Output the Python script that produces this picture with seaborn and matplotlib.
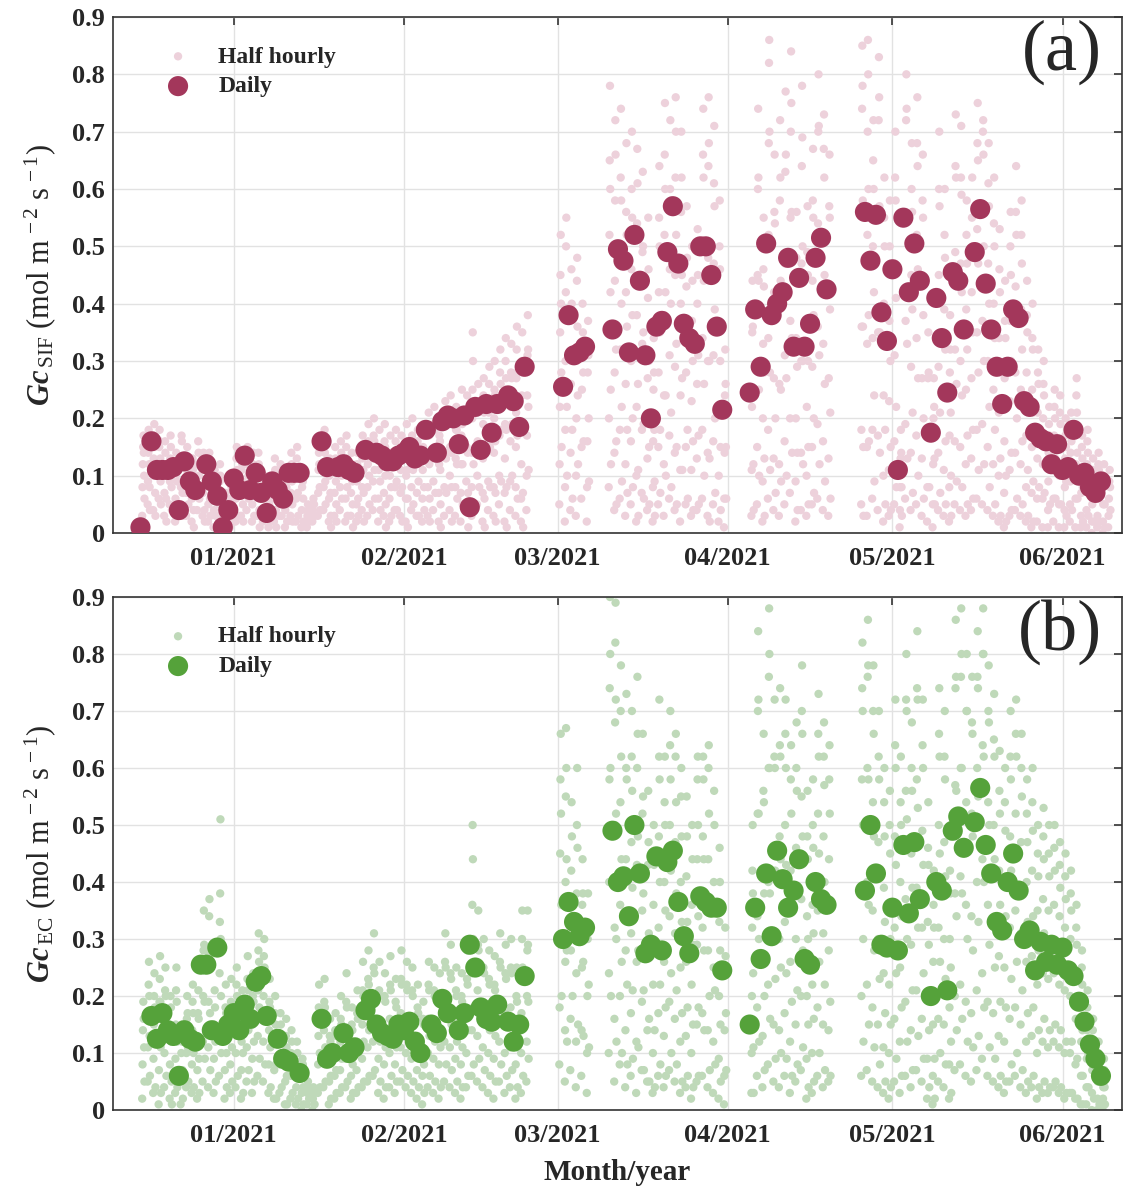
import numpy as np
import pandas as pd
import matplotlib
matplotlib.use("Agg")
import matplotlib.pyplot as plt
import matplotlib.dates as mdates
from matplotlib.ticker import FuncFormatter
import seaborn as sns

# ---- daily Gc (mol m-2 s-1); day = days since 2021-01-01 ----
sif_days = [-17, -15, -14, -13, -12, -11, -10, -9, -8, -7, -5, -4, -3, -2, -1,
            0, 1, 2, 3, 4, 5, 6, 7, 8, 9, 10, 11, 12, 16, 17, 19, 20, 21, 22, 24, 26, 27, 28, 29, 30,
            31, 32, 33, 34, 35, 37, 38, 39, 40, 41, 42, 43, 44, 45, 46, 47, 48, 50, 51, 52, 53,
            60, 61, 62, 63, 64, 69, 70, 71, 72, 73, 74, 75, 76, 77, 78, 79, 80, 81, 82, 83, 84, 85, 86, 87, 88, 89,
            94, 95, 96, 97, 98, 99, 100, 101, 102, 103, 104, 105, 106, 107, 108, 115, 116, 117, 118, 119,
            120, 121, 122, 123, 124, 125, 127, 128, 129, 130, 131, 132, 133, 135, 136, 137, 138, 139, 140,
            141, 142, 143, 144, 145, 146, 147, 148, 149, 150,
            151, 152, 153, 154, 155, 156, 157, 158]
sif_daily = [0.01, 0.16, 0.11, 0.11, 0.11, 0.115, 0.04, 0.125, 0.09, 0.075, 0.12, 0.09, 0.065, 0.01, 0.04,
             0.095, 0.075, 0.135, 0.075, 0.105, 0.07, 0.035, 0.09, 0.075, 0.06, 0.105, 0.105, 0.105, 0.16, 0.115,
             0.115, 0.12, 0.11, 0.105, 0.145, 0.14, 0.135, 0.125, 0.125, 0.135,
             0.14, 0.15, 0.13, 0.135, 0.18, 0.14, 0.195, 0.205, 0.20, 0.155, 0.205, 0.045, 0.22, 0.145, 0.225,
             0.175, 0.225, 0.24, 0.23, 0.185, 0.29,
             0.255, 0.38, 0.31, 0.315, 0.325, 0.355, 0.495, 0.475, 0.315, 0.52, 0.44, 0.31, 0.20, 0.36, 0.37,
             0.49, 0.57, 0.47, 0.365, 0.34, 0.33, 0.50, 0.50, 0.45, 0.36, 0.215,
             0.245, 0.39, 0.29, 0.505, 0.38, 0.40, 0.42, 0.48, 0.325, 0.445, 0.325, 0.365, 0.48, 0.515, 0.425,
             0.56, 0.475, 0.555, 0.385, 0.335,
             0.46, 0.11, 0.55, 0.42, 0.505, 0.44, 0.175, 0.41, 0.34, 0.245, 0.455, 0.44, 0.355, 0.49, 0.565,
             0.435, 0.355, 0.29, 0.225, 0.29, 0.39, 0.375, 0.23, 0.22, 0.175, 0.165, 0.16, 0.12, 0.155,
             0.11, 0.115, 0.18, 0.10, 0.105, 0.08, 0.07, 0.09]

ec_days = [-15, -14, -13, -12, -11, -10, -9, -8, -7, -6, -5, -4, -3, -2, -1,
           0, 1, 2, 3, 4, 5, 6, 8, 9, 10, 12, 16, 17, 18, 20, 21, 22, 24, 25, 26, 27, 28, 29, 30,
           31, 32, 33, 34, 36, 37, 38, 39, 41, 42, 43, 44, 45, 46, 47, 48, 50, 51, 52, 53,
           60, 61, 62, 63, 64, 69, 70, 71, 72, 73, 74, 75, 76, 77, 78, 79, 80, 81, 82, 83, 85, 86, 87, 88, 89,
           94, 95, 96, 97, 98, 99, 100, 101, 102, 103, 104, 105, 106, 107, 108, 115, 116, 117, 118, 119,
           120, 121, 122, 123, 124, 125, 127, 128, 129, 130, 131, 132, 133, 135, 136, 137, 138, 139, 140,
           141, 142, 143, 144, 145, 146, 147, 148, 149, 150,
           151, 152, 153, 154, 155, 156, 157, 158]
ec_daily = [0.165, 0.125, 0.17, 0.14, 0.13, 0.06, 0.14, 0.125, 0.12, 0.255, 0.255, 0.14, 0.285, 0.13, 0.15,
            0.17, 0.14, 0.185, 0.16, 0.225, 0.235, 0.165, 0.125, 0.09, 0.085, 0.065, 0.16, 0.09, 0.10, 0.135,
            0.10, 0.11, 0.175, 0.195, 0.15, 0.135, 0.13, 0.125, 0.15,
            0.14, 0.155, 0.12, 0.10, 0.15, 0.135, 0.195, 0.17, 0.14, 0.17, 0.29, 0.25, 0.18, 0.16, 0.155,
            0.185, 0.155, 0.12, 0.15, 0.235,
            0.30, 0.365, 0.33, 0.305, 0.32, 0.49, 0.40, 0.41, 0.34, 0.50, 0.415, 0.275, 0.29, 0.445, 0.28,
            0.435, 0.455, 0.365, 0.305, 0.275, 0.375, 0.365, 0.355, 0.355, 0.245,
            0.15, 0.355, 0.265, 0.415, 0.305, 0.455, 0.405, 0.355, 0.385, 0.44, 0.265, 0.255, 0.40, 0.37, 0.36,
            0.385, 0.50, 0.415, 0.29, 0.285,
            0.355, 0.28, 0.465, 0.345, 0.47, 0.37, 0.20, 0.40, 0.385, 0.21, 0.49, 0.515, 0.46, 0.505, 0.565,
            0.465, 0.415, 0.33, 0.315, 0.40, 0.45, 0.385, 0.30, 0.315, 0.245, 0.295, 0.26, 0.29, 0.255,
            0.285, 0.245, 0.235, 0.19, 0.155, 0.115, 0.09, 0.06]

# ---- half hourly Gc (x0.01), one string per day, first day 2020-12-15 ----
hh_first_day = -17
sif_hh = [
    # Dec 2020
    "3 8 12 15 17 14 10 6", "5 9 14 18 16 12 8 4", "4 10 13 17 19 15 11 7 3", "6 11 15 18 16 13 9 5",
    "3 7 12 16 14 10 6 2", "5 9 13 17 15 11 8 4", "2 6 10 14 12 9 5", "4 8 13 17 16 12 7 3",
    "3 7 11 15 13 9 5", "2 6 10 13 11 8 4 1", "4 8 12 16 14 10 6", "3 7 11 14 12 8 4 2",
    "2 5 9 12 14 10 6 3", "1 4 8 11 10 7 3", "2 5 9 12 10 6 3 1", "1 3 5 7 6 4 2", "1 3 6 9 8 5 2",
    # Jan 2021
    "2 6 10 13 15 11 7 3", "3 7 11 14 12 9 5 2", "4 8 12 15 13 10 6", "2 5 9 12 14 11 7 3",
    "3 7 11 14 12 8 4 1", "2 4 7 10 9 6 3", "1 3 5 7 6 4 2", "2 6 10 13 11 8 4 1",
    "3 6 9 12 10 7 3", "1 4 7 9 8 5 2", "3 7 11 14 12 9 5 2", "2 6 10 13 15 11 7 3",
    "1 4 8 11 9 6 2", "1 3 5 4 2", "2 4 6 5 3", "3 7 11 14 12 8 4",
    "4 8 12 16 18 14 9 5", "2 6 10 13 11 7 3 1", "3 7 11 15 13 9 5 2", "4 8 12 16 14 10 6",
    "2 6 11 15 17 13 8 3", "3 7 10 14 12 9 5 1", "2 5 9 12 14 11 6 3", "4 8 13 17 15 11 7 2",
    "3 8 12 16 19 15 10 5", "4 9 13 17 20 16 11 6", "2 6 11 15 18 14 9 4", "3 7 12 16 19 15 10 5 1",
    "2 6 10 14 17 13 8 3", "4 8 12 16 18 14 9 4", "3 7 11 15 17 13 8 2",
    # Feb 2021
    "2 6 10 15 19 16 11 6 1", "4 8 13 17 20 16 11 5", "3 7 12 16 18 14 9 3", "2 6 11 15 17 13 8 4",
    "3 8 13 18 21 17 12 6 2", "4 9 14 19 22 18 13 7", "2 7 12 17 20 16 11 5 1", "3 8 14 19 23 19 13 7",
    "4 10 15 20 24 20 14 8 2", "3 8 13 18 22 18 12 6", "2 7 12 17 21 25 19 12 5", "4 9 15 20 24 20 14 7 1",
    "3 8 14 20 25 35 30 22 12 5", "5 10 16 21 26 22 15 8", "2 7 13 19 24 27 21 14 6 1",
    "4 9 15 21 26 29 23 15 8", "3 8 14 20 25 30 24 16 7 2", "5 10 17 23 28 32 26 18 9",
    "2 7 13 19 25 30 34 27 18 8 1", "4 9 16 22 28 33 27 19 10", "3 8 15 21 27 32 36 28 17 6",
    "2 6 12 18 24 30 35 28 18 7 1", "4 10 17 24 31 38 32 22 11", "", "", "", "", "",
    # Mar 2021
    "5 12 22 35 45 52 40 28 15", "2 8 18 30 42 50 55 38 22 10", "4 14 26 38 46 40 30 18 6",
    "3 10 20 32 44 48 36 24 12", "6 15 25 33 40 35 28 16", "2 8 16 28 37 31 20 9", "", "", "",
    "8 20 35 52 65 78 60 42 25 12", "4 14 28 44 58 72 66 50 32 16 5", "6 18 32 48 62 74 58 40 22 9",
    "3 12 26 42 56 68 52 36 18 7", "5 16 30 46 60 70 55 38 20 8", "2 10 22 38 54 67 61 44 26 11 3",
    "7 18 33 49 63 50 35 19 6", "4 13 27 41 55 46 30 15 5", "2 8 16 25 34 28 18 9 3",
    "5 15 28 42 55 64 50 35 18 7", "3 12 24 38 52 66 75 60 42 24 10", "6 17 31 46 60 72 58 40 21 8",
    "4 14 29 45 62 76 70 52 33 15 5", "2 11 24 40 56 70 62 45 27 11", "5 15 28 43 57 48 33 18 6",
    "3 11 23 37 50 44 30 16 4", "4 13 26 40 53 45 31 17 5", "6 18 34 51 66 74 62 44 26 10",
    "3 14 30 48 64 76 68 50 30 13 2", "5 16 31 47 61 71 57 39 20 7", "2 10 22 36 50 58 46 30 15 4",
    "1 6 14 24 32 26 15 6",
    # Apr 2021
    "", "", "", "",
    "3 11 22 35 44 36 24 12 4", "5 15 29 45 60 74 62 44 25 10", "2 9 20 33 46 55 43 28 13 3",
    "6 18 34 52 68 82 86 70 50 28 11", "4 13 27 42 56 66 54 38 20 7", "3 12 26 42 58 72 62 44 25 9",
    "5 16 31 47 63 77 66 47 27 10", "7 20 37 55 70 84 75 56 34 14", "2 9 20 34 48 56 44 29 14 4",
    "4 14 30 47 64 78 69 50 30 12", "3 10 22 36 49 57 45 30 15 5", "5 15 29 44 58 67 55 38 20 7",
    "6 19 36 54 70 80 71 52 31 12", "4 16 33 51 67 73 62 45 26 9", "3 13 27 42 57 66 55 39 21 6",
    "", "", "", "", "",
    "5 18 36 56 74 85 78 58 36 15 3", "3 15 33 52 70 86 80 60 38 16", "6 18 34 50 65 72 60 42 24 9",
    "4 17 35 55 72 83 76 57 35 14", "2 10 24 40 55 62 50 34 18 5", "3 11 23 37 50 58 46 30 15 4",
    # May 2021
    "5 16 31 47 62 70 58 41 22 8", "1 4 8 13 18 14 8 3", "6 19 37 56 72 80 74 55 33 13",
    "4 14 29 45 60 68 56 39 21 7", "5 17 34 52 68 76 64 46 27 10", "3 13 27 43 58 66 55 38 20 6",
    "2 8 17 27 35 28 18 8", "1 5 12 20 27 22 13 5", "4 14 29 45 60 70 57 40 21 7",
    "3 11 24 39 52 60 48 32 16 5", "2 8 17 28 38 32 21 10 3", "5 16 32 49 64 73 62 45 26 9",
    "4 15 30 47 62 71 59 42 24 8", "3 12 25 39 52 58 47 32 17 5", "4 13 27 42 55 62 50 35 18 6",
    "6 18 35 53 68 75 65 47 28 11", "5 19 37 56 70 72 66 50 30 12", "4 15 30 47 61 68 57 40 22 8",
    "3 12 25 40 54 62 50 34 18 5", "2 10 21 34 46 53 42 28 13 3", "1 7 16 27 37 44 34 22 10 2",
    "3 11 23 37 50 56 45 30 14 4", "4 14 28 43 56 64 52 37 20 6", "3 12 25 39 52 58 47 32 16 5",
    "2 8 17 28 38 44 35 23 11 3", "1 7 15 25 34 40 32 21 9 2", "2 6 13 21 28 32 26 17 8",
    "1 6 12 20 26 30 24 15 7", "1 4 9 14 19 22 17 11 5", "2 6 11 17 22 25 20 13 6",
    "1 5 10 16 21 24 19 12 5",
    # Jun 2021
    "1 4 8 13 17 20 15 9 3", "2 5 9 14 18 21 16 10 4", "1 6 12 18 24 27 21 14 6",
    "1 3 7 11 15 17 13 8 2", "1 4 8 12 16 18 14 9 3", "0 2 5 8 11 13 10 6 2",
    "1 3 6 9 12 14 11 7 2", "0 2 5 8 10 12 9 5 1", "1 3 6 9 11 8 4",
]
ec_hh = [
    # Dec 2020
    "2 8 14 19 16 11 5", "5 11 17 22 26 20 13 6", "3 9 15 20 24 18 12 4", "1 7 13 19 23 27 19 11 3",
    "4 10 16 21 25 20 13 6", "2 8 14 20 18 12 5 1", "3 9 15 21 25 19 12 4", "1 5 10 15 12 7 2",
    "4 10 16 20 17 11 5", "3 8 14 19 22 17 10 4", "2 7 12 17 21 16 9 3", "5 12 20 28 35 29 19 9",
    "4 11 19 27 34 37 28 17 7", "3 9 15 21 18 12 5", "6 14 24 33 38 51 30 20 10",
    "2 7 13 18 22 17 10 4", "3 8 14 19 23 18 11 5",
    # Jan 2021
    "4 10 16 22 25 20 13 6", "2 7 12 18 21 16 10 3", "5 11 17 23 27 21 14 7", "3 9 15 20 24 19 12 5",
    "6 13 21 28 31 26 18 9", "5 12 20 27 30 25 17 8", "3 8 14 19 23 18 11 4", "2 7 12 17 20 15 8 2",
    "3 8 13 17 15 9 4", "1 5 9 13 16 11 6 1", "2 6 10 14 12 7 3", "1 4 8 12 10 6 2",
    "0 3 6 9 8 4 1", "1 3 5 4 2", "0 2 4 3 1", "3 8 13 18 22 17 10 4",
    "4 9 14 19 23 18 11 5", "1 5 9 13 16 12 6 2", "2 6 10 14 17 13 7 3", "3 7 12 16 20 15 9 4",
    "4 9 14 19 24 18 11 5", "2 6 11 15 18 14 8 3", "3 7 12 17 21 16 10 4", "4 9 15 21 26 20 12 5",
    "5 11 17 23 28 22 14 6", "6 12 19 25 31 24 15 7", "3 9 15 21 26 20 12 5", "2 8 14 20 24 19 11 4",
    "4 10 16 22 27 21 13 6", "3 8 14 19 23 18 11 5", "5 11 17 23 28 22 14 7",
    # Feb 2021
    "4 10 16 22 26 21 13 6", "3 9 15 21 25 20 12 5", "2 7 13 18 22 17 10 4", "1 6 11 16 19 15 8 3",
    "4 10 16 22 26 21 13 6", "3 9 15 21 25 20 12 5", "2 8 14 20 24 19 11 4", "5 12 19 26 31 25 16 8",
    "4 11 18 24 29 23 15 7", "3 9 15 21 25 20 12 5", "2 8 14 20 24 19 11 4", "4 10 17 23 28 22 14 6",
    "6 14 24 36 50 44 30 18 8", "5 13 21 29 35 28 18 9", "4 11 18 25 30 24 15 7",
    "3 10 17 23 28 22 14 6", "2 9 16 22 27 21 13 5", "5 12 19 26 31 25 16 8",
    "3 10 17 24 29 23 15 6", "4 11 18 25 30 24 15 7", "2 8 14 20 25 19 11 4",
    "3 10 17 24 30 35 25 15 6", "5 12 20 28 35 29 19 9", "", "", "", "", "",
    # Mar 2021
    "8 18 30 45 58 66 52 36 20", "5 14 26 40 55 67 60 44 28 12", "7 16 28 42 54 48 34 20",
    "4 12 24 38 50 60 46 30 15", "6 14 25 36 44 38 26 13", "3 10 20 30 38 32 22 11", "", "", "",
    "10 24 40 58 74 90 80 60 40 20", "5 16 32 50 68 82 89 72 52 30 12", "8 20 36 54 70 78 62 44 26 10",
    "4 14 28 44 60 73 58 40 22 8", "6 17 31 47 62 70 56 39 21 9", "3 12 26 43 60 76 66 48 28 11",
    "7 19 35 52 66 55 38 21 7", "5 14 28 43 56 47 31 16 5", "3 10 22 36 50 43 28 14 4",
    "6 17 32 48 62 72 58 40 22 8", "4 13 26 40 54 62 50 35 18 6", "7 19 34 50 64 70 58 42 24 10",
    "5 16 31 47 62 66 54 38 21 8", "3 12 25 40 55 60 48 33 17 5", "4 13 26 41 55 48 33 18 6",
    "2 10 22 36 50 44 29 15 4", "5 15 29 44 58 62 50 34 18 6", "6 17 32 48 62 58 44 28 14",
    "4 14 28 44 60 64 52 36 20 7", "3 12 25 40 56 50 36 21 8", "2 9 20 33 46 40 28 15 5",
    "1 6 14 24 32 27 17 7",
    # Apr 2021
    "", "", "", "",
    "3 10 20 32 42 50 38 24 11 3", "6 18 34 52 70 84 72 52 30 12", "4 13 26 41 56 66 54 38 20 7",
    "8 22 40 60 76 88 80 60 38 16", "5 15 30 46 62 72 60 42 23 9", "4 14 30 48 64 74 62 44 25 10",
    "6 17 33 50 66 72 60 43 24 9", "3 12 26 42 58 64 52 36 19 6", "5 15 30 46 60 68 56 39 21 8",
    "7 20 37 55 70 78 66 48 28 11", "2 9 20 34 48 56 44 30 15 4", "3 10 22 36 50 58 46 31 16 5",
    "6 18 35 52 66 73 62 45 26 10", "4 15 31 48 62 68 57 40 22 7", "5 14 28 44 58 64 52 36 19 6",
    "", "", "", "", "",
    "6 20 38 58 74 82 70 50 30 12", "7 22 40 60 76 86 78 58 36 15", "5 18 35 54 70 78 66 48 28 11",
    "4 15 30 47 62 70 58 41 23 8", "3 11 24 39 54 60 48 33 17 5", "2 10 22 36 50 56 45 30 15 4",
    # May 2021
    "5 16 32 48 64 72 60 43 24 9", "3 12 25 40 54 62 50 34 18 6", "6 19 37 56 72 80 70 51 30 12",
    "4 14 29 45 60 68 56 39 21 7", "7 21 39 58 74 84 72 53 32 13", "5 16 32 49 64 72 60 43 24 9",
    "2 9 20 33 46 54 43 29 14 4", "1 6 15 26 36 42 32 20 9 2", "5 16 32 50 66 74 62 45 26 10",
    "4 15 30 47 62 70 58 41 23 8", "2 8 18 30 42 48 38 25 12 3", "7 20 38 57 74 86 76 56 34 14",
    "8 22 41 60 76 88 80 60 38 16", "6 19 36 54 70 80 70 51 30 12", "5 17 34 52 68 76 66 48 28 11",
    "7 21 40 60 76 84 74 55 33 13", "9 24 44 64 80 88 80 62 40 18", "6 19 36 54 70 78 68 50 29 11",
    "5 17 33 50 65 73 62 44 25 9", "4 13 27 42 56 63 52 36 19 6", "3 12 25 40 54 60 49 34 18 5",
    "5 16 32 48 62 70 58 42 23 8", "6 18 35 52 66 72 62 45 26 10", "4 15 31 47 60 66 55 39 21 7",
    "3 12 26 40 52 58 47 33 17 5", "4 13 27 42 54 60 49 34 18 6", "2 10 22 35 45 50 41 28 14 4",
    "3 12 24 37 48 53 44 31 16 5", "3 11 23 35 45 50 41 28 14 4", "4 12 24 36 46 50 42 29 15 5",
    "3 11 22 34 43 47 39 27 14 4",
    # Jun 2021
    "2 10 21 32 41 45 37 25 12 3", "3 10 20 30 38 42 35 24 12 3", "2 8 16 24 32 36 29 19 9 2",
    "1 6 12 19 25 28 22 14 6 1", "1 4 9 14 18 21 16 10 4", "0 3 7 11 14 16 12 7 2",
    "0 2 5 8 10 12 9 5 1", "0 2 4 7 9 7 4 1",
]

month_ticks = ["2021-01-01", "2021-02-01", "2021-03-01", "2021-04-01", "2021-05-01", "2021-06-01"]
month_labels = ["01/2021", "02/2021", "03/2021", "04/2021", "05/2021", "06/2021"]
y_ticks = [0, 0.1, 0.2, 0.3, 0.4, 0.5, 0.6, 0.7, 0.8, 0.9]

base = pd.Timestamp("2021-01-01")


def daily_frame(days, vals):
    return pd.DataFrame({"date": base + pd.to_timedelta(days, unit="D"), "gc": vals})


def hh_frame(rows):
    dates, vals = [], []
    for i, row in enumerate(rows):
        v = [int(s) / 100 for s in row.split()]
        for j, x in enumerate(v):
            # half hourly samples spread over the daylight hours
            hrs = 7.5 + 10 * j / max(len(v) - 1, 1)
            dates.append(base + pd.Timedelta(days=hh_first_day + i, hours=hrs))
            vals.append(x)
    return pd.DataFrame({"date": dates, "gc": vals})


sns.set_style("white")
plt.rcParams["font.family"] = ["Liberation Serif", "DejaVu Serif"]
plt.rcParams["mathtext.fontset"] = "custom"
plt.rcParams["mathtext.rm"] = "Liberation Serif"
plt.rcParams["mathtext.it"] = "Liberation Serif:italic"
plt.rcParams["mathtext.bf"] = "Liberation Serif:italic:bold"

fig = plt.figure(figsize=(11.29, 11.89), dpi=100)
ax1 = fig.add_axes([0.1001, 0.5517, 0.8937, 0.434])
ax2 = fig.add_axes([0.1001, 0.0664, 0.8937, 0.4315])

panels = [
    (ax1, sif_hh, sif_days, sif_daily, "#EDD1DB", "#A3375B", "SIF", "(a)"),
    (ax2, ec_hh, ec_days, ec_daily, "#BFD9B9", "#55A23A", "EC", "(b)"),
]

for ax, hh, days, daily, c_hh, c_day, sub, tag in panels:
    sns.scatterplot(data=hh_frame(hh), x="date", y="gc", ax=ax, color=c_hh, s=36,
                    edgecolor="none", linewidth=0, label="Half hourly", zorder=2)
    sns.scatterplot(data=daily_frame(days, daily), x="date", y="gc", ax=ax, color=c_day, s=210,
                    edgecolor="none", linewidth=0, label="Daily", zorder=3)

    ax.set_xlim(pd.Timestamp("2020-12-10"), pd.Timestamp("2021-06-11 20:00"))
    ax.set_ylim(0, 0.9)
    ax.set_xticks(mdates.date2num(pd.to_datetime(month_ticks)))
    ax.set_xticklabels(month_labels, fontsize=19, fontweight="bold")
    ax.set_yticks(y_ticks)
    ax.yaxis.set_major_formatter(FuncFormatter(lambda v, p: f"{v:g}"))
    for lab in ax.get_yticklabels():
        lab.set_fontsize(19)
        lab.set_fontweight("bold")
    ax.tick_params(axis="y", direction="in", length=6, width=1.2, right=True,
                   color="#333333", pad=6)
    ax.tick_params(axis="x", direction="in", length=6, width=1.2, top=True,
                   color="#333333", pad=10)
    ax.grid(True, color="#e2e2e2", linewidth=1)
    ax.set_axisbelow(True)
    for sp in ax.spines.values():
        sp.set_color("#333333")
        sp.set_linewidth(1.2)

    ax.set_xlabel("")
    ax.set_ylabel(r"$\mathbf{Gc}_{\,\mathrm{" + sub + r"}}$ (mol m$^{\,-2}$ s$^{\,-1}$)",
                  fontsize=22, labelpad=10)
    ax.text(0.98, 0.995, tag, transform=ax.transAxes, ha="right", va="top", fontsize=52)

    ax.legend(loc="upper left", bbox_to_anchor=(0.02, 0.985), frameon=False,
              prop={"family": "Liberation Serif", "weight": "bold", "size": 17},
              handletextpad=0.7, labelspacing=0.35, scatterpoints=1)

ax2.set_xlabel("Month/year", fontsize=21, fontweight="bold", labelpad=9)

fig.savefig("out.png", dpi=100)
